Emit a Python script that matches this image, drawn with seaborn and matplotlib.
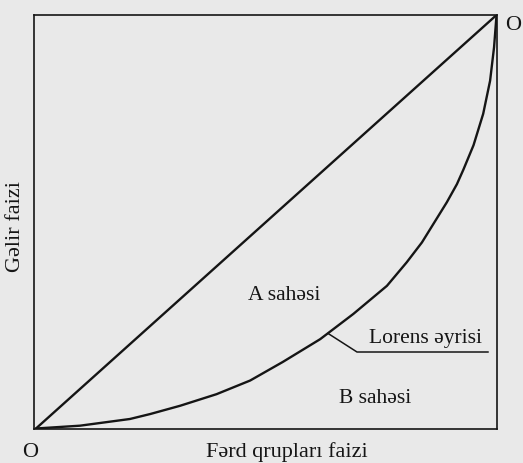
import matplotlib
matplotlib.use("Agg")
import matplotlib.pyplot as plt
import seaborn as sns
import pandas as pd

# Data (fractions of total)
lorenz_x = [0.0, 0.0955, 0.204, 0.248, 0.313, 0.392, 0.465, 0.536, 0.617, 0.689,
            0.762, 0.805, 0.838, 0.892, 0.914, 0.928, 0.950, 0.971, 0.986, 0.9946, 1.0]
lorenz_y = [0.0, 0.0068, 0.023, 0.035, 0.055, 0.083, 0.116, 0.161, 0.216, 0.277,
            0.345, 0.402, 0.450, 0.547, 0.591, 0.626, 0.685, 0.761, 0.841, 0.922, 1.0]
equality_x = [0.0, 1.0]
equality_y = [0.0, 1.0]

x_label = "Fərd qrupları faizi"
y_label = "Gəlir faizi"
area_a = "A sahəsi"
area_b = "B sahəsi"
curve_label = "Lorens əyrisi"
origin_label = "O"

sns.set_style("white")
plt.rcParams['font.family'] = ['Liberation Serif', 'DejaVu Serif']

bg = "#e9e9e9"
ink = "#151515"

fig = plt.figure(figsize=(5.23, 4.64), dpi=100, facecolor=bg)
ax = fig.add_axes([33.5 / 523, 1 - 429.5 / 464, 463.5 / 523, 413.5 / 464])
ax.set_facecolor(bg)

df_eq = pd.DataFrame({"x": equality_x, "y": equality_y})
df_lz = pd.DataFrame({"x": lorenz_x, "y": lorenz_y})
sns.lineplot(data=df_eq, x="x", y="y", ax=ax, color=ink, lw=1.7, sort=False,
             solid_joinstyle="round", solid_capstyle="round")
sns.lineplot(data=df_lz, x="x", y="y", ax=ax, color=ink, lw=1.7, sort=False,
             solid_joinstyle="round", solid_capstyle="round")

ax.set_xlim(-0.0054, 1.001)
ax.set_ylim(0.0, 1.0)
ax.set_xticks([])
ax.set_yticks([])
for s in ax.spines.values():
    s.set_color(ink)
    s.set_linewidth(1.2)

ax.set_xlabel(x_label, fontsize=16, color=ink, va="center")
ax.xaxis.set_label_coords(0.547, -0.054)
ax.set_ylabel(y_label, fontsize=16, color=ink, va="center")
ax.yaxis.set_label_coords(-0.038, 0.49)

ax.text(0.539, 0.325, area_a, fontsize=15.5, color=ink, ha="center", va="center")
ax.text(0.736, 0.076, area_b, fontsize=15.5, color=ink, ha="center", va="center")

# Lorenz curve pointer with underlined label
ax.plot([0.634, 0.697, 0.982], [0.230, 0.185, 0.185], color=ink, lw=1.1)
ax.text(0.845, 0.196, curve_label, fontsize=15.5, color=ink, ha="center", va="bottom")

fig.text(30 / 523, 1 - 453 / 464, origin_label, fontsize=16, color=ink, ha="center", va="center")
fig.text(513 / 523, 1 - 25 / 464, origin_label, fontsize=16, color=ink, ha="center", va="center")

fig.savefig("out.png", dpi=100, facecolor=bg)
